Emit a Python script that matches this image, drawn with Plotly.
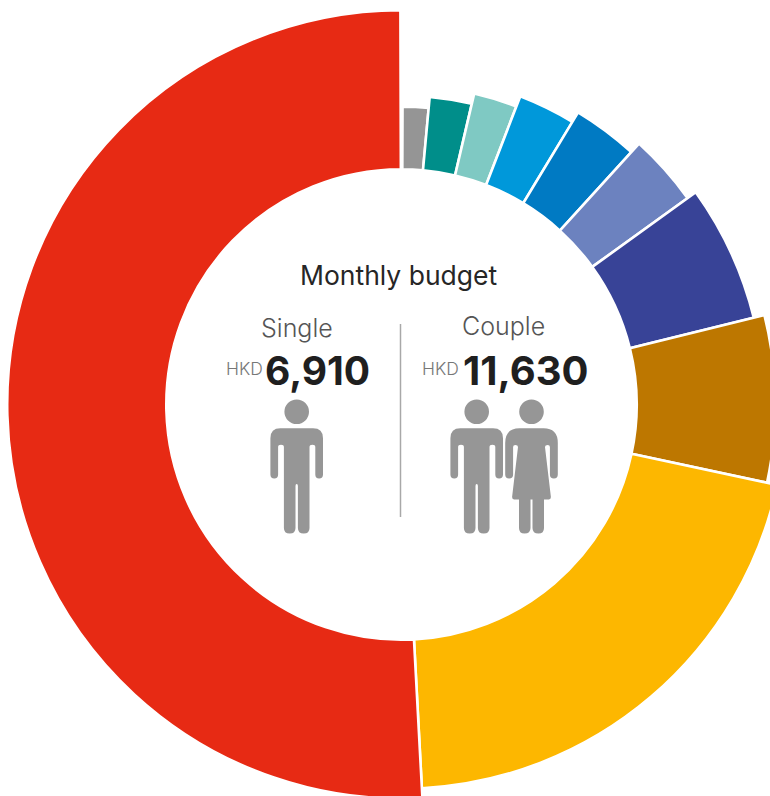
import plotly.graph_objects as go

# Share of the monthly budget per category (percent), clockwise from 12 o'clock
shares = [1.4, 2.2, 2.2, 2.8, 3.1, 3.3, 6.1, 7.2, 20.8, 50.8]
# Outer radius of each wedge, growing in steps around the ring
outer_radius = [296.5, 307.5, 318, 329, 340, 351.5, 361.5, 372.5, 383, 393]
colors = ["#959595", "#008e8a", "#7fc9c3", "#0098da", "#007ac3",
          "#6c82bf", "#384397", "#bd7700", "#fdb700", "#e72a14"]

INNER = 236.5
W, H = 803, 809
TOP = 3
GAP = 2.6

# Centre of each wedge from the cumulative shares
theta, width = [], []
running = 0.0
for s in shares:
    theta.append((running + s / 2) * 3.6)
    width.append(s * 3.6)
    running += s

fig = go.Figure(go.Barpolar(
    theta=theta,
    width=width,
    base=[INNER - GAP / 2] * len(shares),
    r=[o - INNER + GAP for o in outer_radius],
    marker=dict(color=colors, line=dict(color="white", width=GAP)),
    hoverinfo="skip",
))


def px(x):
    return x / W


def py(y):
    return 1 - y / H


def pt(x, y):
    return f"{px(x):.5f} {py(y):.5f}"


def symmetric_path(cx, half):
    """Close an outline from its right half, mirrored about x = cx."""
    d = f"M {pt(cx, half[0][1])}"
    for seg in half[1:]:
        if len(seg) == 2:
            d += f" L {pt(cx + seg[0], seg[1])}"
        else:
            d += f" Q {pt(cx + seg[0], seg[1])} {pt(cx + seg[2], seg[3])}"
    # walk back down the left side
    ends = [(s[-2], s[-1]) for s in half]
    for i in range(len(half) - 1, 0, -1):
        seg = half[i]
        prev = ends[i - 1]
        if len(seg) == 2:
            d += f" L {pt(cx - prev[0], prev[1])}"
        else:
            d += f" Q {pt(cx - seg[0], seg[1])} {pt(cx - prev[0], prev[1])}"
    return d + " Z"


MAN = [
    (0, 428.3), (16.3, 428.3), (26.3, 428.3, 26.3, 438.3), (26.3, 474.5),
    (26.3, 478.5, 22.4, 478.5), (18.6, 478.5, 18.6, 474.5), (18.6, 447),
    (18.6, 444.8, 15.7, 444.8), (12.8, 444.8, 12.8, 447), (12.8, 528),
    (12.8, 533.5, 7, 533.5), (1.2, 533.5, 1.2, 528), (1.2, 486),
    (1.2, 484, 0, 484),
]

WOMAN = [
    (0, 428.3), (12, 428.3), (26.3, 428.3, 26.3, 443), (26.3, 474.5),
    (26.3, 478.5, 22.4, 478.5), (18.4, 478.5, 18.4, 474.5), (18.4, 447),
    (18.4, 445, 16.2, 445), (13.5, 445, 13.5, 447), (19.4, 497),
    (19.4, 499.4, 17.5, 499.4), (12.5, 499.4), (12.5, 528),
    (12.5, 533.5, 7, 533.5), (1, 533.5, 1, 528), (1, 499.4), (0, 499.4),
]

FIGURE_GRAY = "#969696"
shapes = []
for cx, outline in [(296.7, MAN), (476.7, MAN), (531.5, WOMAN)]:
    shapes.append(dict(type="path", xref="paper", yref="paper",
                       path=symmetric_path(cx, outline),
                       fillcolor=FIGURE_GRAY, line=dict(width=0)))
    shapes.append(dict(type="circle", xref="paper", yref="paper",
                       x0=px(cx - 12.3), x1=px(cx + 12.3),
                       y0=py(411.7 + 12.3), y1=py(411.7 - 12.3),
                       fillcolor=FIGURE_GRAY, line=dict(width=0)))
shapes.append(dict(type="line", xref="paper", yref="paper",
                   x0=px(400.5), x1=px(400.5), y0=py(324), y1=py(517),
                   line=dict(color="#a8a8a8", width=1.5)))


def label(text, x, y, size, color, anchor="center", weight=400):
    return dict(text=text, xref="paper", yref="paper", x=px(x), y=py(y),
                xanchor=anchor, yanchor="middle", showarrow=False,
                font=dict(family="Inter", size=size, color=color, weight=weight))


annotations = [
    label("Monthly budget", 399, 274.5, 26.5, "#262626"),
    label("Single", 297, 328, 25, "#555555", weight=300),
    label("Couple", 504, 325.5, 25, "#555555", weight=300),
    label("HKD", 244, 368.5, 17.5, "#777777", weight=300),
    label("6,910", 317.5, 370.5, 39, "#1f1f1f", weight=700),
    label("HKD", 440, 368.5, 17.5, "#777777", weight=300),
    label("11,630", 525, 370.5, 40, "#1f1f1f", weight=700),
]

fig.update_layout(
    width=W,
    height=H,
    margin=dict(l=0, r=0, t=0, b=0),
    paper_bgcolor="white",
    showlegend=False,
    polar=dict(
        domain=dict(x=[0, 1], y=[TOP / H, 1 - TOP / H]),
        bgcolor="white",
        angularaxis=dict(visible=False, direction="clockwise", rotation=89.8),
        radialaxis=dict(visible=False, range=[0, W / 2]),
    ),
    shapes=shapes,
    annotations=annotations,
)

fig.write_html(
    "out.html",
    config=dict(displayModeBar=False),
    post_script="document.documentElement.style.overflow='hidden';document.body.style.overflow='hidden';",
)
